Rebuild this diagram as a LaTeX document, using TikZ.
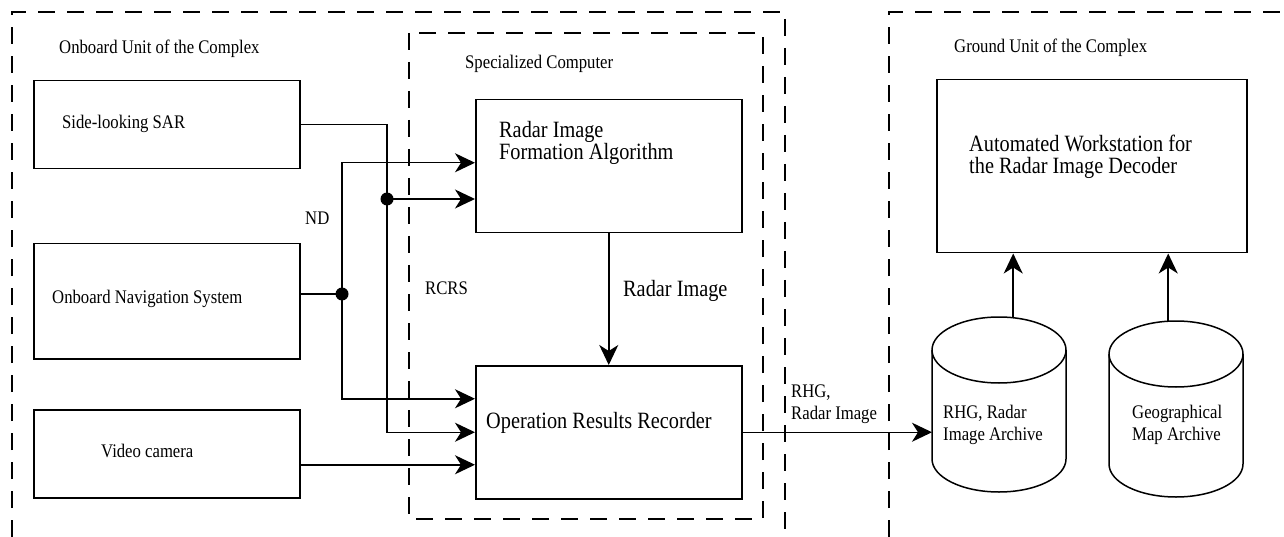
\documentclass[tikz,border=0pt]{standalone}
\usepackage{fontspec}
\usepackage{graphicx}
\setmainfont{Liberation Serif}
\usetikzlibrary{arrows.meta,calc}
\newcommand\smlfont{\fontsize{16.7}{21.5}\selectfont}
\newcommand\lrgfont{\fontsize{20.3}{21.5}\selectfont}
\newcommand\tallt[1]{\scalebox{1}[1.15]{#1}}
\tikzset{
  dsh/.style={draw, line width=1.8pt, dash pattern=on 17pt off 12pt},
  blk/.style={draw, line width=1.5pt, rectangle, inner sep=0pt, anchor=north west},
  ghost/.style={rectangle, inner sep=0pt, anchor=north west},
  conn/.style={line width=1.5pt},
  arr/.style={line width=1.5pt, -{Stealth[length=20pt,width=19pt,inset=6pt]}},
  txts/.style={inner sep=0pt, anchor=west, align=left, font=\smlfont},
  txtl/.style={inner sep=0pt, anchor=west, align=left, font=\lrgfont},
  jdot/.style={fill=black}
}
\begin{document}
\begin{tikzpicture}[x=1pt,y=-1pt]
\useasboundingbox (0,0) rectangle (1284,537);
\fill[white] (0,0) rectangle (1284,537);

% unit frames
\draw[dsh] (12,537) -- (12,12) -- (785,12) -- (785,537);
\draw[dsh] (889,537) -- (889,12) -- (1290,12);
\draw[dsh] (409,33) rectangle (763,519);

% boxes
\node[blk, minimum width=266pt, minimum height=88pt] (sar) at (33,80) {};
\node[blk, minimum width=266pt, minimum height=115pt] (nav) at (33,243) {};
\node[blk, minimum width=266pt, minimum height=88pt] (cam) at (33,409) {};
\node[blk, minimum width=266pt, minimum height=133pt] (form) at (475,99) {};
\node[blk, minimum width=266pt, minimum height=133pt] (rec) at (475,365) {};
\node[blk, minimum width=310pt, minimum height=173pt] (ws) at (936,79) {};

% cylinders
\node[ghost, minimum width=134pt, minimum height=175pt] (arch1) at (932,317) {};
\node[ghost, minimum width=134pt, minimum height=176pt] (arch2) at (1109,321) {};
\draw[conn] (932,350) -- (932,459) arc[start angle=180, end angle=360, x radius=67pt, y radius=33pt] -- (1066,350);
\draw[conn] (999,350) ellipse[x radius=67pt, y radius=33pt];
\draw[conn] (1109,354) -- (1109,464) arc[start angle=180, end angle=360, x radius=67pt, y radius=33pt] -- (1243,354);
\draw[conn] (1176,354) ellipse[x radius=67pt, y radius=33pt];

% junctions
\coordinate (jA) at (342,294);
\coordinate (jB) at (387,199);

% connectors
\draw[arr] (sar.east) -| (jB |- rec.west) -- (rec.west);
\draw[arr] (jB) -- (jB -| form.west);
\draw[conn] (nav.east |- jA) -- (jA);
\draw[arr] (jA) |- ([yshift=3.5pt]form.west);
\draw[arr] (jA) |- ([yshift=33.5pt]rec.west);
\draw[arr] ([yshift=-11pt]cam.east) -- ([yshift=-11pt]cam.east -| rec.west);
\draw[arr] (form.south) -- (rec.north);
\draw[arr] (rec.east) -- (rec.east -| arch1.west);
\draw[arr] ([xshift=14pt]arch1.north) -- ([xshift=14pt]arch1.north |- ws.south);
\draw[arr] ([xshift=-8pt]arch2.north) -- ([xshift=-8pt]arch2.north |- ws.south);
\fill[jdot] (jA) circle (6.5pt);
\fill[jdot] (jB) circle (6.5pt);

% texts
\node[txts] (tOn) at (59,49) {\tallt{Onboard Unit of the Complex}};
\node[txts] (tSc) at (465,64) {\tallt{Specialized Computer}};
\node[txts] (tSar) at (62,124) {\tallt{Side-looking SAR}};
\node[txts] (tNd) at (305,218) {\tallt{ND}};
\node[txts] (tNav) at (52,299) {\tallt{Onboard Navigation System}};
\node[txts] (tCam) at (101,451) {\tallt{Video camera}};
\node[txtl] (tForm) at (499,143) {\tallt{Radar Image}\\\tallt{Formation Algorithm}};
\node[txts] (tRcrs) at (425,288) {\tallt{RCRS}};
\node[txtl] (tRi) at (623,291) {\tallt{Radar Image}};
\node[txtl] (tRec) at (486,423) {\tallt{Operation Results Recorder}};
\node[txts] (tOut) at (791,404) {\tallt{RHG,}\\\tallt{Radar Image}};
\node[txts] (tGr) at (954,48) {\tallt{Ground Unit of the Complex}};
\node[txtl] (tWs) at (969,157) {\tallt{Automated Workstation for}\\\tallt{the Radar Image Decoder}};
\node[txts] (tA1) at (943,425) {\tallt{RHG, Radar}\\\tallt{Image Archive}};
\node[txts] (tA2) at (1132,425) {\tallt{Geographical}\\\tallt{Map Archive}};
\end{tikzpicture}
\end{document}
